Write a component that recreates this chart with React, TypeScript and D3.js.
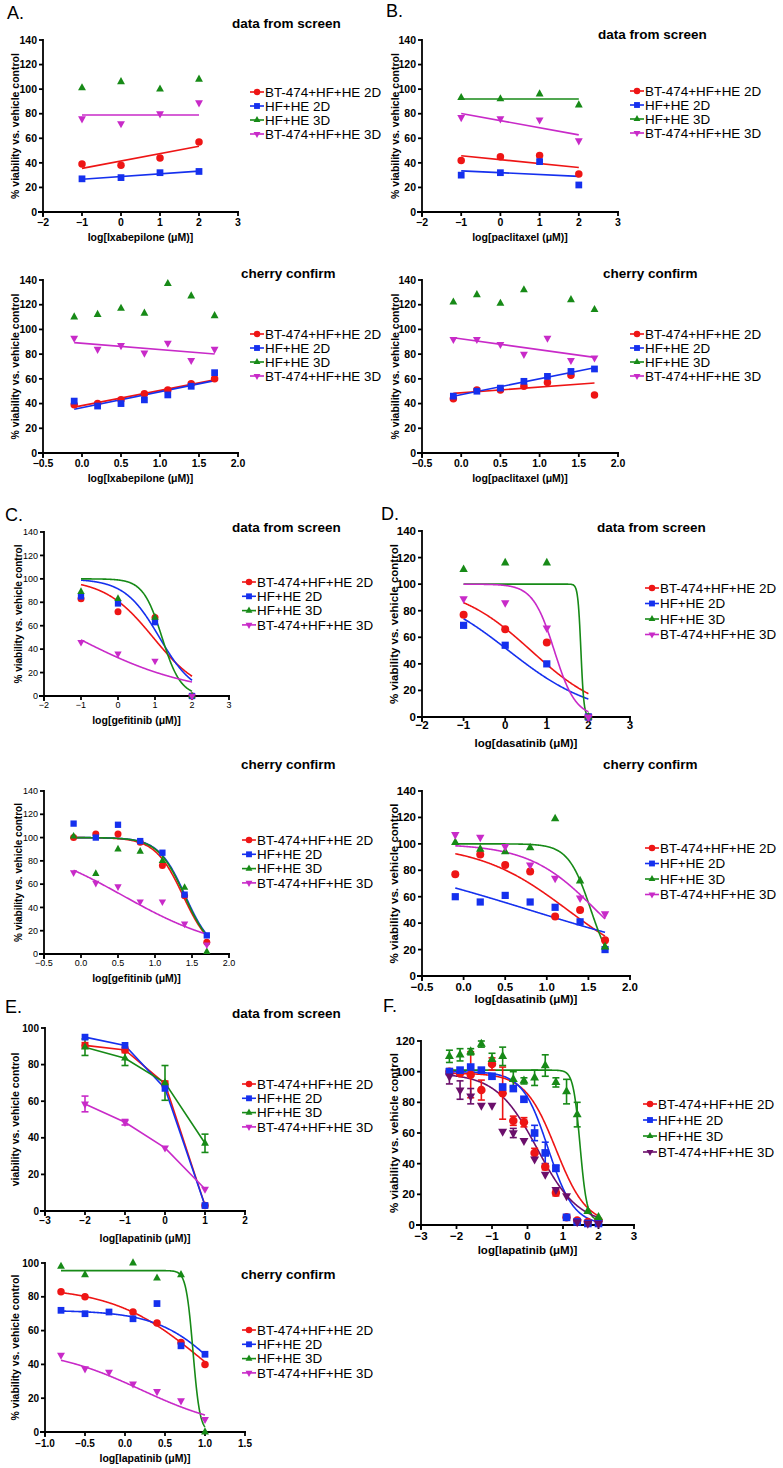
import React from 'react';
import * as d3 from 'd3';

// ---------- shared ----------
const SERIES_NAMES = ['BT-474+HF+HE 2D', 'HF+HE 2D', 'HF+HE 3D', 'BT-474+HF+HE 3D'];
const COLORS = ['#ee1515', '#1530ee', '#178a17', '#c82ac8'];
const COLORS_F = ['#ee1515', '#1530ee', '#178a17', '#6b0f6b'];
const SHAPES = ['circle', 'square', 'triangle', 'triangleDown'];

// ---------- A: Ixabepilone ----------
const aTopX = [-1, 0, 1, 2];
const aTopRed = [39, 38, 44, 57];
const aTopBlue = [27, 28, 32, 33];
const aTopGreen = [101, 106, 100, 108];
const aTopMag = [76, 72, 80, 89];
const aTopFits = [{ kind: 'linreg' }, { kind: 'linreg' }, null, { kind: 'const', v: 79 }];

const aBotX = [-0.1, 0.2, 0.5, 0.8, 1.1, 1.4, 1.7];
const aBotRed = [39, 40, 43, 48, 51, 56, 60];
const aBotBlue = [42, 38, 40, 43, 47, 54, 65];
const aBotGreen = [110, 112, 117, 113, 137, 127, 111];
const aBotMag = [93, 84, 87, 81, 89, 75, 84];
const aBotFits = [{ kind: 'linreg' }, { kind: 'linreg' }, null, { kind: 'linreg' }];

// ---------- B: paclitaxel ----------
const bTopX = [-1, 0, 1, 2];
const bTopRed = [42, 45, 46, 31];
const bTopBlue = [30, 32, 41, 22];
const bTopGreen = [93, 92, 96, 87];
const bTopMag = [77, 76, 75, 58];
const bTopFits = [{ kind: 'linreg' }, { kind: 'linreg' }, { kind: 'const', v: 92 }, { kind: 'linreg' }];

const bBotX = [-0.1, 0.2, 0.5, 0.8, 1.1, 1.4, 1.7];
const bBotRed = [44, 51, 51, 54, 57, 63, 47];
const bBotBlue = [46, 50, 52.5, 58, 62, 66, 68];
const bBotGreen = [122, 128, 121, 132, null, 124, 116];
const bBotMag = [92, 92, 88, 80, 93, 75, 77];
const bBotFits = [{ kind: 'linreg' }, { kind: 'linreg' }, null, { kind: 'linreg' }];

// ---------- C: gefitinib ----------
const cTopX = [-1, 0, 1, 2];
const cTopRed = [83, 72, 67, 0];
const cTopBlue = [85, 79, 63, 0];
const cTopGreen = [89, 83, 67, 0];
const cTopMag = [46, 36, 30, 0];
const cTopFits = [
  { kind: '4pl', top: 100, bottom: 0, c: 0.95, h: 0.66 },
  { kind: '4pl', top: 100, bottom: 0, c: 1.12, h: 0.92 },
  { kind: '4pl', top: 100, bottom: 0, c: 1.19, h: 1.7 },
  { kind: '4pl', top: 100, bottom: 0, c: -1.13, h: 0.277 },
];

const cBotX = [-0.1, 0.2, 0.5, 0.8, 1.1, 1.4, 1.7];
const cBotRed = [100, 103, 103, 96, 76, 50, 10];
const cBotBlue = [112, 100, 111, 97, 87, 51, 16];
const cBotGreen = [101, 69, 90, 88, 80, 57, 2];
const cBotMag = [70, 61, 58, 45, 45, 26, 8];
const cBotFits = [
  { kind: '4pl', top: 100, bottom: 0, c: 1.38, h: 2.3 },
  { kind: '4pl', top: 100, bottom: 0, c: 1.41, h: 2.4 },
  { kind: '4pl', top: 100, bottom: 0, c: 1.40, h: 2.4 },
  { kind: '4pl', top: 100, bottom: 0, c: 0.57, h: 0.61 },
];

// ---------- D: dasatinib ----------
const dTopX = [-1, 0, 1, 2];
const dTopRed = [77, 66, 56, 0];
const dTopBlue = [69, 54, 40, 0];
const dTopGreen = [111, 116, 116, 0];
const dTopMag = [89, 86, 67, 0];
const dTopFits = [
  { kind: '4pl', top: 100, bottom: 0, c: 0.62, h: 0.487 },
  { kind: '4pl', top: 100, bottom: 0, c: 0.08, h: 0.42 },
  { kind: '4pl', top: 100, bottom: 0, c: 1.82, h: 12 },
  { kind: '4pl', top: 100, bottom: 0, c: 1.18, h: 1.69 },
];

const dBotX = [-0.1, 0.2, 0.5, 0.8, 1.1, 1.4, 1.7];
const dBotRed = [77, 92, 84, 79, 45, 50, 27];
const dBotBlue = [60, 56, 61, 56, 52, 41, 20];
const dBotGreen = [101, 96, 94, 97, 119, 72, 22];
const dBotMag = [107, 105, 98, 84, 74, 59, 47];
const dBotFits = [
  { kind: '4pl', top: 100, bottom: 0, c: 1.25, h: 0.81 },
  { kind: '4pl', top: 100, bottom: 0, c: 0.79, h: 0.337 },
  { kind: '4pl', top: 100, bottom: 0, c: 1.53, h: 3.2 },
  { kind: '4pl', top: 100, bottom: 0, c: 1.59, h: 1.08 },
];

// ---------- E: lapatinib ----------
const eTopX = [-2, -1, 0, 1];
const eTopRed = [90.5, 88, 69.5, 3];
const eTopBlue = [95, 90.5, 67, 3];
const eTopGreen = [89.5, 83.5, 70, 37];
const eTopMag = [58.5, 48.5, 34.5, 12];
const eTopRedErr = [1.5, 1.5, 1.5, 0.5];
const eTopBlueErr = [1, 1, 1, 0.5];
const eTopGreenErr = [4.5, 4, 9.5, 5];
const eTopMagErr = [4.3, 1.5, 0.8, 0.8];
const eTopFits = [{ kind: 'connect' }, { kind: 'connect' }, { kind: 'connect' }, { kind: 'connect' }];

const eBotX = [-0.8, -0.5, -0.2, 0.1, 0.4, 0.7, 1.0];
const eBotRed = [83, 80, null, 71, 64.5, 53, 40];
const eBotBlue = [72, 70, 71, 67, 76, 51, 46];
const eBotGreen = [98, 93, null, 100, 91, 93, 0];
const eBotMag = [45.5, 37.5, 35.5, 28.5, 24, 18.5, 7.5];
const eBotFits = [
  { kind: '4pl', top: 86, bottom: 0, c: 0.96, h: 0.78 },
  { kind: '4pl', top: 72, bottom: 0, c: 1.22, h: 1.1 },
  { kind: '4pl', top: 95.5, bottom: 0, c: 0.85, h: 10 },
  { kind: '4pl', top: 50, bottom: 0, c: 0.2, h: 0.75 },
];

// ---------- F: lapatinib dose series ----------
const fX = [-2.2, -1.9, -1.6, -1.3, -1.0, -0.7, -0.4, -0.1, 0.2, 0.5, 0.8, 1.1, 1.4, 1.7, 2.0];
const fRed = [100, 99, 98, 88, 105, 86, 68, 67, 47, 38, 21, 5, 3, 2, 3];
const fBlue = [100, 101, 103, 101, 97, 90, 89, 82, 60, 47, 37, 5, 2, 1, 1];
const fGreen = [110, 111, 113, 118, 108, 110, 95, 94, 96, 104, 93, 87, 72, 9, 5];
const fMag = [97, 88, 84, 78, 78, 61, 60, 55, 43, 33, 23, 19, 2, 1, 1];
const fRedErr = [1, 1, 15, 6.5, 4, 17, 3, 3, 3, 2, 2, 1, 1, 1, 1];
const fBlueErr = [1, 1, 1, 1, 1, 1, 1, 1, 5, 7, 2, 1, 1, 1, 1];
const fGreenErr = [4, 4, 2, 2, 4, 6, 5, 2, 5, 7, 3, 8, 8, 1, 1];
const fMagErr = [5, 6, 5, 1, 1, 1, 3, 1, 1, 1, 1, 1, 1, 1, 1];
const fFits = [
  { kind: '4pl', top: 99, bottom: 0, c: 0.8, h: 1.0 },
  { kind: '4pl', top: 100, bottom: 0, c: 0.58, h: 1.2 },
  { kind: '4pl', top: 101, bottom: 3, c: 1.48, h: 4.5 },
  { kind: '4pl', top: 99, bottom: 0, c: 0.28, h: 0.75 },
];

// ---------- helpers ----------
const FONT = 'Liberation Sans, Arial, Helvetica, sans-serif';

function fourPL(f: any, x: number) {
  return f.bottom + (f.top - f.bottom) / (1 + Math.pow(10, (x - f.c) * f.h));
}

function Marker({ shape, cx, cy, s, color }: any) {
  if (shape === 'circle') return <circle cx={cx} cy={cy} r={s * 0.5} fill={color} />;
  if (shape === 'square') return <rect x={cx - s * 0.45} y={cy - s * 0.45} width={s * 0.9} height={s * 0.9} fill={color} />;
  const h = s * 0.95;
  const w = s * 1.05;
  if (shape === 'triangle')
    return <polygon points={`${cx - w / 2},${cy + h / 3} ${cx + w / 2},${cy + h / 3} ${cx},${cy - (2 * h) / 3}`} fill={color} />;
  return <polygon points={`${cx - w / 2},${cy - h / 3} ${cx + w / 2},${cy - h / 3} ${cx},${cy + (2 * h) / 3}`} fill={color} />;
}

function Panel(p: any) {
  const x = d3.scaleLinear().domain(p.xDomain).range([p.x0, p.x1]);
  const y = d3.scaleLinear().domain([0, p.yMax]).range([p.yBottom, p.yTop]);
  const xTicks = d3.range(p.xDomain[0], p.xDomain[1] + 1e-9, p.xStep);
  const yTicks = d3.range(0, p.yMax + 1e-9, p.yStep);
  const xFmt = p.xStep < 1 ? d3.format('.1f') : d3.format('d');
  const colors = p.colors || COLORS;
  const ms = p.markerSize || 7.5;
  const lw = p.axisWidth || 1.8;
  const line = d3
    .line<[number, number]>()
    .x((d) => x(d[0]))
    .y((d) => y(d[1]));

  const curves = p.fits.map((f: any, i: number) => {
    if (!f) return null;
    const vals = p.values[i];
    const pts = p.xs.map((xv: number, j: number) => [xv, vals[j]]).filter((d: any) => d[1] != null);
    const xmin = d3.min(p.xs as number[])!;
    const xmax = d3.max(p.xs as number[])!;
    let data: [number, number][] = [];
    if (f.kind === 'linreg') {
      const mx = d3.mean(pts, (d: any) => d[0])!;
      const my = d3.mean(pts, (d: any) => d[1])!;
      const sxy = d3.sum(pts, (d: any) => (d[0] - mx) * (d[1] - my));
      const sxx = d3.sum(pts, (d: any) => (d[0] - mx) * (d[0] - mx));
      const b = sxy / sxx;
      data = [
        [xmin, my + b * (xmin - mx)],
        [xmax, my + b * (xmax - mx)],
      ];
    } else if (f.kind === 'const') {
      data = [
        [xmin, f.v],
        [xmax, f.v],
      ];
    } else if (f.kind === 'connect') {
      data = pts as any;
    } else {
      data = d3.range(0, 301).map((k) => {
        const xv = xmin + ((xmax - xmin) * k) / 300;
        return [xv, fourPL(f, xv)] as [number, number];
      });
    }
    return <path key={'c' + i} d={line(data) || ''} fill="none" stroke={colors[i]} strokeWidth={1.6} />;
  });

  const tickStyle = { fontFamily: FONT, fontSize: p.tickSize, fontWeight: p.tickWeight } as any;
  const midX = (p.x0 + p.x1) / 2;
  const midY = (p.yTop + p.yBottom) / 2;

  return (
    <g>
      {p.label && (
        <text x={p.labelX} y={p.labelY} fontFamily={FONT} fontSize={18}>
          {p.label}
        </text>
      )}
      {p.title && (
        <text x={p.titleX} y={p.titleY} fontFamily={FONT} fontSize={13.5} fontWeight="bold">
          {p.title}
        </text>
      )}
      {/* axes */}
      <line x1={p.x0} x2={p.x0} y1={p.yTop - 1} y2={p.yBottom + 5} stroke="#000" strokeWidth={lw} />
      <line x1={p.x0 - 5} x2={p.x1 + 1} y1={p.yBottom} y2={p.yBottom} stroke="#000" strokeWidth={lw} />
      {yTicks.map((t: number) => (
        <g key={'yt' + t}>
          <line x1={p.x0 - 4} x2={p.x0} y1={y(t)} y2={y(t)} stroke="#000" strokeWidth={lw} />
          <text x={p.x0 - 6} y={y(t)} dy="0.35em" textAnchor="end" style={tickStyle}>
            {t}
          </text>
        </g>
      ))}
      {xTicks.map((t: number) => (
        <g key={'xt' + t}>
          <line x1={x(t)} x2={x(t)} y1={p.yBottom} y2={p.yBottom + 4} stroke="#000" strokeWidth={lw} />
          <text x={x(t)} y={p.xTickY} textAnchor="middle" style={tickStyle}>
            {xFmt(t)}
          </text>
        </g>
      ))}
      <text
        transform={`translate(${p.yLabelX},${midY}) rotate(-90)`}
        textAnchor="middle"
        dy="0.35em"
        fontFamily={FONT}
        fontSize={p.yLabelSize}
        fontWeight="bold"
      >
        {p.yLabel}
      </text>
      <text x={midX} y={p.xLabelY} textAnchor="middle" fontFamily={FONT} fontSize={p.xLabelSize} fontWeight="bold">
        {p.xLabel}
      </text>
      {/* curves */}
      {curves}
      {/* error bars */}
      {p.errs &&
        p.errs.map((es: number[], i: number) =>
          es.map((e: number, j: number) => {
            const v = p.values[i][j];
            if (v == null || e < 1.2) return null;
            const cx = x(p.xs[j]);
            return (
              <g key={'e' + i + '-' + j} stroke={colors[i]} strokeWidth={1.6}>
                <line x1={cx} x2={cx} y1={y(v - e)} y2={y(v + e)} />
                <line x1={cx - 3.5} x2={cx + 3.5} y1={y(v + e)} y2={y(v + e)} />
                <line x1={cx - 3.5} x2={cx + 3.5} y1={y(v - e)} y2={y(v - e)} />
              </g>
            );
          })
        )}
      {/* markers */}
      {p.values.map((vals: (number | null)[], i: number) =>
        vals.map((v, j) =>
          v == null ? null : (
            <Marker key={'m' + i + '-' + j} shape={SHAPES[i]} cx={x(p.xs[j])} cy={y(v)} s={ms} color={colors[i]} />
          )
        )
      )}
      {/* legend */}
      {SERIES_NAMES.map((n, i) => {
        const ly = p.legendY + i * p.legendStep;
        return (
          <g key={'l' + i}>
            <line x1={p.legendX} x2={p.legendX + 14} y1={ly} y2={ly} stroke={colors[i]} strokeWidth={1.6} />
            <Marker shape={SHAPES[i]} cx={p.legendX + 7} cy={ly} s={6.5} color={colors[i]} />
            <text x={p.legendX + 15} y={ly} dy="0.36em" fontFamily={FONT} fontSize={13.4}>
              {n}
            </text>
          </g>
        );
      })}
    </g>
  );
}

const YL = '% viability vs. vehicle control';

const panels: any[] = [
  {
    label: 'A.', labelX: 7, labelY: 19,
    title: 'data from screen', titleX: 232, titleY: 28,
    x0: 43, x1: 238, yTop: 40, yBottom: 212, xDomain: [-2, 3], xStep: 1, yMax: 140, yStep: 20,
    tickSize: 10.5, tickWeight: 'bold', xTickY: 226,
    yLabel: YL, yLabelX: 15, yLabelSize: 10.5, xLabel: 'log[Ixabepilone (\u03bcM)]', xLabelY: 241, xLabelSize: 10.5,
    legendX: 250, legendY: 92, legendStep: 14,
    xs: aTopX, values: [aTopRed, aTopBlue, aTopGreen, aTopMag], fits: aTopFits,
  },
  {
    title: 'cherry confirm', titleX: 241, titleY: 278,
    x0: 43, x1: 238, yTop: 280, yBottom: 453, xDomain: [-0.5, 2.0], xStep: 0.5, yMax: 140, yStep: 20,
    tickSize: 10.5, tickWeight: 'bold', xTickY: 467,
    yLabel: YL, yLabelX: 15, yLabelSize: 10.5, xLabel: 'log[Ixabepilone (\u03bcM)]', xLabelY: 482, xLabelSize: 10.5,
    legendX: 250, legendY: 334, legendStep: 14,
    xs: aBotX, values: [aBotRed, aBotBlue, aBotGreen, aBotMag], fits: aBotFits,
  },
  {
    label: 'B.', labelX: 386, labelY: 17,
    title: 'data from screen', titleX: 598, titleY: 39,
    x0: 422, x1: 618, yTop: 40, yBottom: 212, xDomain: [-2, 3], xStep: 1, yMax: 140, yStep: 20,
    tickSize: 10.5, tickWeight: 'bold', xTickY: 226,
    yLabel: YL, yLabelX: 395, yLabelSize: 10.5, xLabel: 'log[paclitaxel (\u03bcM)]', xLabelY: 241, xLabelSize: 10.5,
    legendX: 630, legendY: 91, legendStep: 14,
    xs: bTopX, values: [bTopRed, bTopBlue, bTopGreen, bTopMag], fits: bTopFits,
  },
  {
    title: 'cherry confirm', titleX: 603, titleY: 278,
    x0: 422, x1: 618, yTop: 280, yBottom: 453, xDomain: [-0.5, 2.0], xStep: 0.5, yMax: 140, yStep: 20,
    tickSize: 10.5, tickWeight: 'bold', xTickY: 467,
    yLabel: YL, yLabelX: 395, yLabelSize: 10.5, xLabel: 'log[paclitaxel (\u03bcM)]', xLabelY: 482, xLabelSize: 10.5,
    legendX: 630, legendY: 334, legendStep: 14,
    xs: bBotX, values: [bBotRed, bBotBlue, bBotGreen, bBotMag], fits: bBotFits,
  },
  {
    label: 'C.', labelX: 5, labelY: 521,
    title: 'data from screen', titleX: 232, titleY: 532,
    x0: 44, x1: 229, yTop: 532, yBottom: 696, xDomain: [-2, 3], xStep: 1, yMax: 140, yStep: 20,
    tickSize: 9, tickWeight: 'normal', xTickY: 708,
    yLabel: YL, yLabelX: 18, yLabelSize: 10, xLabel: 'log[gefitinib (\u03bcM)]', xLabelY: 724, xLabelSize: 10.5,
    legendX: 242, legendY: 582, legendStep: 14.3, markerSize: 7,
    xs: cTopX, values: [cTopRed, cTopBlue, cTopGreen, cTopMag], fits: cTopFits,
  },
  {
    title: 'cherry confirm', titleX: 241, titleY: 769,
    x0: 44, x1: 229, yTop: 791, yBottom: 954, xDomain: [-0.5, 2.0], xStep: 0.5, yMax: 140, yStep: 20,
    tickSize: 9, tickWeight: 'normal', xTickY: 966,
    yLabel: YL, yLabelX: 18, yLabelSize: 10, xLabel: 'log[gefitinib (\u03bcM)]', xLabelY: 982, xLabelSize: 10.5,
    legendX: 242, legendY: 840, legendStep: 14.3, markerSize: 7,
    xs: cBotX, values: [cBotRed, cBotBlue, cBotGreen, cBotMag], fits: cBotFits,
  },
  {
    label: 'D.', labelX: 381, labelY: 520,
    title: 'data from screen', titleX: 597, titleY: 532,
    x0: 422, x1: 630, yTop: 531, yBottom: 717, xDomain: [-2, 3], xStep: 1, yMax: 140, yStep: 20,
    tickSize: 11.5, tickWeight: 'bold', xTickY: 729,
    yLabel: YL, yLabelX: 394, yLabelSize: 11.5, xLabel: 'log[dasatinib (\u03bcM)]', xLabelY: 747, xLabelSize: 11.5,
    legendX: 645, legendY: 588, legendStep: 15.5, markerSize: 8,
    xs: dTopX, values: [dTopRed, dTopBlue, dTopGreen, dTopMag], fits: dTopFits,
  },
  {
    title: 'cherry confirm', titleX: 603, titleY: 769,
    x0: 422, x1: 630, yTop: 791, yBottom: 976, xDomain: [-0.5, 2.0], xStep: 0.5, yMax: 140, yStep: 20,
    tickSize: 11.5, tickWeight: 'bold', xTickY: 991,
    yLabel: YL, yLabelX: 394, yLabelSize: 11.5, xLabel: 'log[dasatinib (\u03bcM)]', xLabelY: 1003, xLabelSize: 11.5,
    legendX: 645, legendY: 848, legendStep: 15.5, markerSize: 8,
    xs: dBotX, values: [dBotRed, dBotBlue, dBotGreen, dBotMag], fits: dBotFits,
  },
  {
    label: 'E.', labelX: 5, labelY: 1013,
    title: 'data from screen', titleX: 232, titleY: 1018,
    x0: 45, x1: 245, yTop: 1028, yBottom: 1211, xDomain: [-3, 2], xStep: 1, yMax: 100, yStep: 20,
    tickSize: 10, tickWeight: 'bold', xTickY: 1224,
    yLabel: 'viability vs. vehicle control', yLabelX: 15, yLabelSize: 10.5, xLabel: 'log[lapatinib (\u03bcM)]', xLabelY: 1242, xLabelSize: 10.5,
    legendX: 242, legendY: 1084, legendStep: 14.3,
    xs: eTopX, values: [eTopRed, eTopBlue, eTopGreen, eTopMag], fits: eTopFits,
    errs: [eTopRedErr, eTopBlueErr, eTopGreenErr, eTopMagErr],
  },
  {
    title: 'cherry confirm', titleX: 241, titleY: 1279,
    x0: 45, x1: 245, yTop: 1263, yBottom: 1432, xDomain: [-1, 1.5], xStep: 0.5, yMax: 100, yStep: 20,
    tickSize: 10, tickWeight: 'bold', xTickY: 1447,
    yLabel: YL, yLabelX: 15, yLabelSize: 10.5, xLabel: 'log[lapatinib (\u03bcM)]', xLabelY: 1462, xLabelSize: 10.5,
    legendX: 242, legendY: 1330, legendStep: 14.3,
    xs: eBotX, values: [eBotRed, eBotBlue, eBotGreen, eBotMag], fits: eBotFits,
  },
  {
    label: 'F.', labelX: 383, labelY: 1012,
    x0: 421, x1: 634, yTop: 1041, yBottom: 1225, xDomain: [-3, 3], xStep: 1, yMax: 120, yStep: 20,
    tickSize: 11.5, tickWeight: 'bold', xTickY: 1240,
    yLabel: YL, yLabelX: 394, yLabelSize: 11.5, xLabel: 'log[lapatinib (\u03bcM)]', xLabelY: 1254, xLabelSize: 11.5,
    legendX: 643, legendY: 1104, legendStep: 16, markerSize: 8.5, colors: COLORS_F,
    xs: fX, values: [fRed, fBlue, fGreen, fMag], fits: fFits,
    errs: [fRedErr, fBlueErr, fGreenErr, fMagErr],
  },
];

export default function App() {
  return (
    <svg
      width={783}
      height={1468}
      viewBox="0 0 783 1468"
      style={{ position: 'absolute', left: 0, top: 0, background: '#fff' }}
    >
      <rect x={0} y={0} width={783} height={1468} fill="#fff" />
      {panels.map((p, i) => (
        <Panel key={i} {...p} />
      ))}
    </svg>
  );
}
